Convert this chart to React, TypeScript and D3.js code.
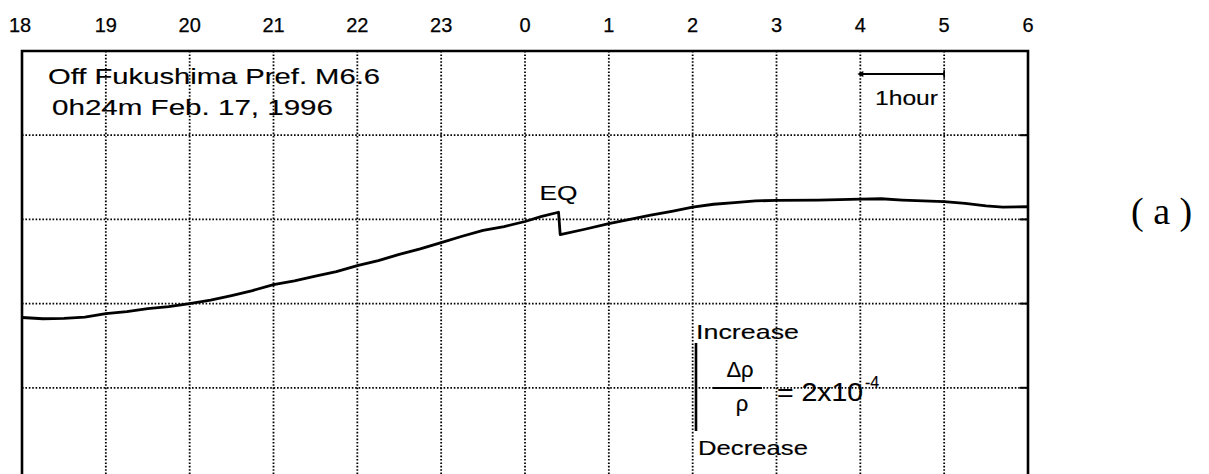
import React, { useEffect, useRef } from 'react';
import * as d3 from 'd3';

// hours elapsed since 18:00 on Feb. 16 and the recorded density change (x1e-4, arbitrary origin)
const hours = [
  0, 0.25, 0.5, 0.75, 1, 1.25, 1.5, 1.75, 2, 2.25, 2.5, 2.75, 3, 3.25, 3.5, 3.75,
  4, 4.25, 4.5, 4.75, 5, 5.25, 5.5, 5.75, 6, 6.2, 6.4, 6.42, 6.7, 7, 7.25, 7.5,
  7.75, 8, 8.25, 8.5, 8.75, 9, 9.5, 10, 10.25, 10.5, 11, 11.25, 11.5, 11.7, 12
];
const density = [
  3.67, 3.64, 3.65, 3.68, 3.76, 3.81, 3.88, 3.93, 4.0, 4.08, 4.19, 4.31, 4.45, 4.54, 4.65, 4.76,
  4.9, 5.02, 5.17, 5.3, 5.45, 5.6, 5.74, 5.83, 5.95, 6.07, 6.17, 5.64, 5.76, 5.9, 6.0, 6.1,
  6.19, 6.29, 6.36, 6.4, 6.44, 6.45, 6.46, 6.48, 6.49, 6.46, 6.42, 6.38, 6.32, 6.29, 6.3
];
const hourLabels = ['18', '19', '20', '21', '22', '23', '0', '1', '2', '3', '4', '5', '6'];
const gridValues = [2, 4, 6, 8];
const quakeHour = 6.4; // 0h24m

export default function App() {
  const ref = useRef<SVGSVGElement | null>(null);

  useEffect(() => {
    const height = 474;
    const left = 22;
    const right = 1028;
    const top = 51;
    const bottom = 472;
    const sans = "'Liberation Sans', Arial, sans-serif";

    const svg = d3.select(ref.current);
    svg.selectAll('*').remove();

    const x = d3.scaleLinear().domain([0, 12]).range([left, right]);
    const y = d3.scaleLinear().domain([0, 10]).range([bottom, top]);

    // dotted grid
    svg.append('g')
      .selectAll('line')
      .data(d3.range(1, 12))
      .enter()
      .append('line')
      .attr('x1', d => x(d)).attr('x2', d => x(d))
      .attr('y1', top).attr('y2', height)
      .attr('stroke', '#000')
      .attr('stroke-width', 1.8)
      .attr('stroke-dasharray', '1.6,1.8');

    svg.append('g')
      .selectAll('line')
      .data(gridValues)
      .enter()
      .append('line')
      .attr('x1', left).attr('x2', right)
      .attr('y1', d => y(d)).attr('y2', d => y(d))
      .attr('stroke', '#000')
      .attr('stroke-width', 1.8)
      .attr('stroke-dasharray', '1.6,1.8');

    // small solid ticks on the right border
    svg.append('g')
      .selectAll('line')
      .data(gridValues)
      .enter()
      .append('line')
      .attr('x1', right - 8).attr('x2', right)
      .attr('y1', d => y(d)).attr('y2', d => y(d))
      .attr('stroke', '#000')
      .attr('stroke-width', 2);

    // frame (bottom runs off the page)
    svg.append('path')
      .attr('d', `M${left},${height} V${top} H${right} V${height}`)
      .attr('fill', 'none')
      .attr('stroke', '#000')
      .attr('stroke-width', 2.6);

    // hour labels along the top
    svg.append('g')
      .selectAll('text')
      .data(hourLabels)
      .enter()
      .append('text')
      .attr('x', (d, i) => x(i) - (i === 0 ? 2 : 0))
      .attr('y', 32)
      .attr('text-anchor', 'middle')
      .attr('font-family', sans)
      .attr('font-size', 20)
      .attr('stroke', '#000')
      .attr('stroke-width', 0.25)
      .text(d => d);

    // trace
    const line = d3.line<number>()
      .x((d, i) => x(hours[i]))
      .y(d => y(d));

    svg.append('path')
      .datum(density)
      .attr('d', line)
      .attr('fill', 'none')
      .attr('stroke', '#000')
      .attr('stroke-width', 2.8)
      .attr('stroke-linejoin', 'round');

    // annotations
    const text = (s: string, tx: number, ty: number, size: number, len?: number) => {
      const t = svg.append('text')
        .attr('x', tx).attr('y', ty)
        .attr('font-family', sans)
        .attr('font-size', size)
        .attr('stroke', '#000')
        .attr('stroke-width', 0.15)
        .text(s);
      if (len) t.attr('textLength', len).attr('lengthAdjust', 'spacingAndGlyphs');
      return t;
    };

    text('Off Fukushima Pref. M6.6', 48, 84, 22, 332);
    text('0h24m  Feb. 17, 1996', 52, 115, 22, 281);
    text('EQ', x(quakeHour) - 19, 200, 21, 38);

    // 1 hour scale bar
    svg.append('line')
      .attr('x1', x(10) - 1).attr('x2', x(11))
      .attr('y1', 74).attr('y2', 74)
      .attr('stroke', '#000')
      .attr('stroke-width', 2);
    svg.append('path')
      .attr('d', `M${x(10) - 3},74 l6,-3 v6 z`)
      .attr('fill', '#000');
    svg.append('line')
      .attr('x1', x(11)).attr('x2', x(11))
      .attr('y1', 70).attr('y2', 78)
      .attr('stroke', '#000')
      .attr('stroke-width', 1.5);
    text('1hour', 875, 105, 21, 63);

    // amplitude scale
    text('Increase', 696, 339, 21, 103);
    text('Decrease', 698, 455, 21, 110);
    svg.append('line')
      .attr('x1', 696).attr('x2', 696)
      .attr('y1', 343).attr('y2', 431)
      .attr('stroke', '#000')
      .attr('stroke-width', 2.6);
    text('\u0394\u03c1', 740, 377, 22).attr('text-anchor', 'middle');
    svg.append('line')
      .attr('x1', 713).attr('x2', 762)
      .attr('y1', 388).attr('y2', 388)
      .attr('stroke', '#000')
      .attr('stroke-width', 1.8);
    text('\u03c1', 742, 411, 22).attr('text-anchor', 'middle');
    text('= 2x10', 777, 401, 25, 86);
    text('-4', 865, 388, 16);

    // panel tag
    svg.append('text')
      .attr('x', 1131)
      .attr('y', 224)
      .attr('font-family', "'Liberation Serif', 'Times New Roman', serif")
      .attr('font-size', 38)
      .text('( a )');
  }, []);

  return (
    <svg
      ref={ref}
      width={1209}
      height={474}
      style={{ position: 'absolute', left: 0, top: 0, background: '#fff', display: 'block' }}
    />
  );
}
